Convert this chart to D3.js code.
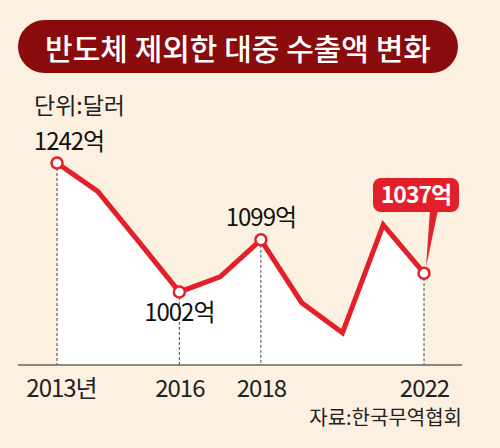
<!DOCTYPE html>
<html>
<head>
<meta charset="utf-8">
<script src="https://cdn.jsdelivr.net/npm/d3@7"></script>
<style>
  body { margin: 0; background: #fcf0e1; }
  text { font-family: "Noto Sans CJK KR", "Noto Sans", sans-serif; }
</style>
</head>
<body>
<div id="chart"></div>
<script>
// data
const years = [2013, 2014, 2015, 2016, 2017, 2018, 2019, 2020, 2021, 2022];
const values = [1242, 1189, 1096, 1002, 1030, 1099, 982, 926, 1127, 1037];
const labeledYears = [2013, 2016, 2018, 2022];
const tickYears = [2013, 2016, 2018, 2022];
const tickLabels = ['2013년', '2016', '2018', '2022'];
const title = '반도체 제외한 대중 수출액 변화';
const unitText = '단위:달러';
const sourceText = '자료:한국무역협회';

const width = 500;
const height = 448;
const baseY = 365;

const svg = d3.select('#chart').append('svg')
    .attr('width', width).attr('height', height);

svg.append('rect')
    .attr('width', width).attr('height', height)
    .attr('fill', '#fcf0e1');

const x = d3.scaleLinear().domain([2013, 2022]).range([57, 424]);
const y = d3.scaleLinear().domain([866, 1242]).range([baseY, 163]);

const data = years.map((d, i) => ({ year: d, value: values[i] }));

// title banner
svg.append('rect')
    .attr('x', 18).attr('y', 20)
    .attr('width', 440).attr('height', 53)
    .attr('rx', 26.5)
    .attr('fill', '#8a0b0b');
svg.append('text')
    .attr('x', 238).attr('y', 47)
    .attr('text-anchor', 'middle')
    .attr('dominant-baseline', 'central')
    .attr('fill', '#fff')
    .attr('font-size', 30)
    .attr('font-weight', 500)
    .text(title);

svg.append('text')
    .attr('x', 34).attr('y', 114)
    .attr('font-size', 23)
    .attr('fill', '#222')
    .text(unitText);

// white area under the line
const area = d3.area()
    .x(d => x(d.year))
    .y0(baseY)
    .y1(d => y(d.value));
svg.append('path')
    .datum(data)
    .attr('d', area)
    .attr('fill', '#fff');

// dashed drop lines
svg.selectAll('.drop')
    .data(data.filter(d => labeledYears.includes(d.year)))
    .join('line')
    .attr('class', 'drop')
    .attr('x1', d => x(d.year)).attr('x2', d => x(d.year))
    .attr('y1', d => y(d.value)).attr('y2', baseY)
    .attr('stroke', '#444')
    .attr('stroke-width', 1)
    .attr('stroke-dasharray', '3,2');

// axis
const xAxis = d3.axisBottom(x)
    .tickValues(tickYears)
    .tickSize(0)
    .tickPadding(15)
    .tickFormat((d, i) => tickLabels[i]);
const axisG = svg.append('g')
    .attr('transform', `translate(0,${baseY})`)
    .call(xAxis);
axisG.select('.domain').remove();
axisG.selectAll('text')
    .attr('font-size', 24)
    .attr('letter-spacing', -1)
    .attr('fill', '#222')
    .attr('dx', (d, i) => i === 0 ? 4 : 0);
svg.append('line')
    .attr('x1', 18).attr('x2', 462)
    .attr('y1', baseY).attr('y2', baseY)
    .attr('stroke', '#666')
    .attr('stroke-width', 1.5);

// the line
const line = d3.line()
    .x(d => x(d.year))
    .y(d => y(d.value));
svg.append('path')
    .datum(data)
    .attr('d', line)
    .attr('fill', 'none')
    .attr('stroke', '#e3202a')
    .attr('stroke-width', 5)
    .attr('stroke-linejoin', 'miter');

// callout for the last point
const last = data[data.length - 1];
const lx = x(last.year), ly = y(last.value);
svg.append('path')
    .attr('d', `M${lx + 6},210 L${lx + 14},210 L${lx + 2},${ly - 6} Z`)
    .attr('fill', '#e3202a');
svg.append('rect')
    .attr('x', lx - 51).attr('y', 178)
    .attr('width', 86).attr('height', 34)
    .attr('rx', 8)
    .attr('fill', '#e3202a');
svg.append('text')
    .attr('x', lx - 8).attr('y', 203)
    .attr('text-anchor', 'middle')
    .attr('font-size', 23)
    .attr('font-weight', 700)
    .attr('letter-spacing', -1)
    .attr('fill', '#fff')
    .text(`${last.value}억`);

// markers
svg.selectAll('.marker')
    .data(data.filter(d => labeledYears.includes(d.year)))
    .join('circle')
    .attr('class', 'marker')
    .attr('cx', d => x(d.year))
    .attr('cy', d => y(d.value))
    .attr('r', 5.5)
    .attr('fill', '#fff')
    .attr('stroke', '#e3202a')
    .attr('stroke-width', 2.5);

// value labels (except the callout one)
const labelPlace = {
    2013: { dx: 12, dy: -13 },
    2016: { dx: 0, dy: 29 },
    2018: { dx: 0, dy: -14 }
};
svg.selectAll('.vlabel')
    .data(data.filter(d => labelPlace[d.year]))
    .join('text')
    .attr('class', 'vlabel')
    .attr('x', d => x(d.year) + labelPlace[d.year].dx)
    .attr('y', d => y(d.value) + labelPlace[d.year].dy)
    .attr('text-anchor', 'middle')
    .attr('font-size', 24)
    .attr('letter-spacing', -1)
    .attr('fill', '#111')
    .text(d => `${d.value}억`);

svg.append('text')
    .attr('x', 462).attr('y', 425)
    .attr('text-anchor', 'end')
    .attr('font-size', 20)
    .attr('fill', '#222')
    .text(sourceText);
</script>
</body>
</html>
